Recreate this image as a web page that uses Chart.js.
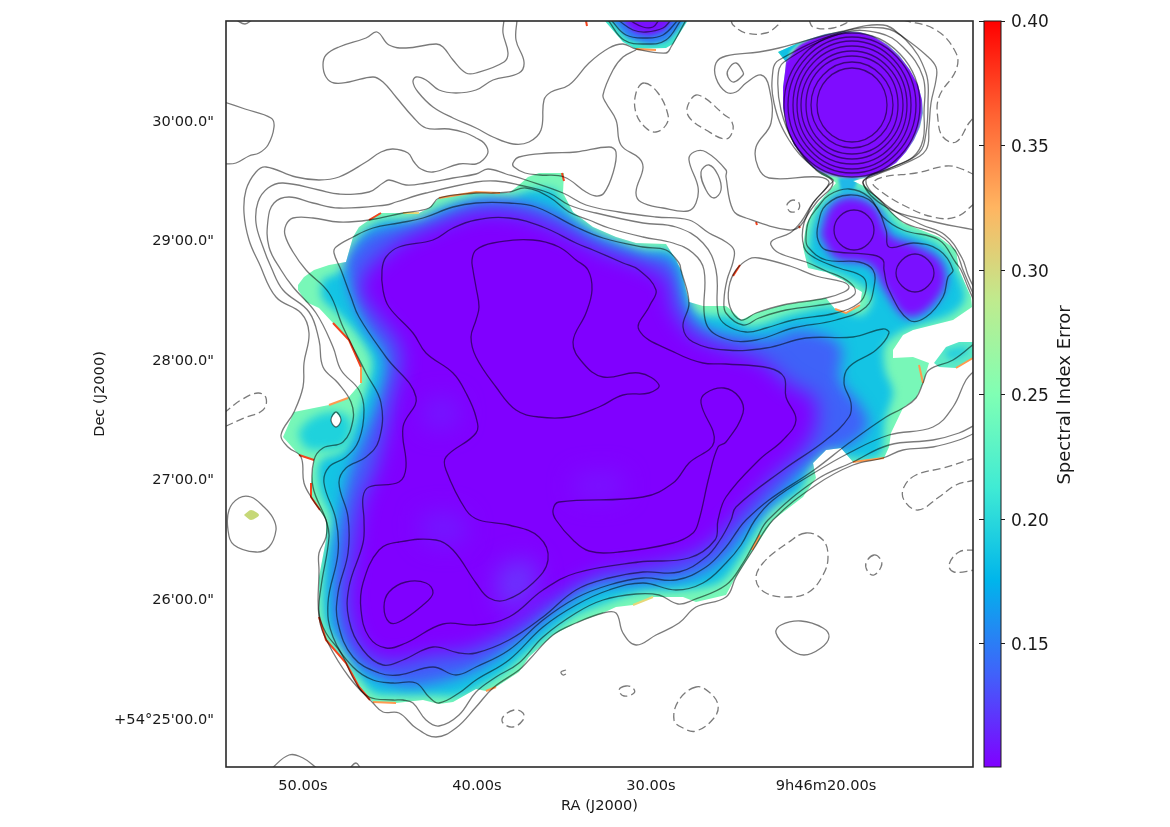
<!DOCTYPE html>
<html><head><meta charset="utf-8">
<style>html,body{margin:0;padding:0;background:#fff;width:1170px;height:827px;overflow:hidden}canvas{position:absolute;top:0}</style>
<script src="https://cdn.jsdelivr.net/npm/chart.js@4"></script>
</head><body>
<canvas id="map" width="1170" height="827" style="left:0"></canvas>
<canvas id="bar" width="195" height="827" style="left:975px"></canvas>
<script>
// tick labels and their positions in map pixels
const raTicks=[303,477,651,826];
const raLabels=['50.00s','40.00s','30.00s','9h46m20.00s'];
const decTicks=[120,239,359,478,598,718];
const decLabels=['30\'00.0"','29\'00.0"','28\'00.0"','27\'00.0"','26\'00.0"','+54°25\'00.0"'];
const cbTicks=[0.15,0.20,0.25,0.30,0.35,0.40];
const cbRange=[0.1006,0.40];
const cbStops=['#8000ff','#4062fa','#00b5eb','#40ebd4','#80ffb4','#bfeb8e','#ffb561','#ff6232','#ff0000'];

// spectral index error map: regions of near-constant error
const errEdge=[[298,285],[304,277],[314,270],[329,265],[346,262],[353,237],[359,227],[369,220],[379,213],[403,213],[419,213],[429,208],[439,198],[476,192],[509,193],[519,185],[528,177],[539,173],[564,173],[563,193],[573,212],[593,227],[616,237],[636,243],[666,244],[676,260],[681,270],[686,290],[689,302],[703,306],[726,306],[730,309],[741,320],[756,313],[783,305],[826,298],[835,309],[846,313],[860,305],[862,292],[850,285],[843,280],[826,272],[808,268],[803,247],[806,225],[815,207],[830,190],[836,183],[833,180],[822,175],[806,161],[794,145],[787,128],[783,108],[783,87],[785,72],[786,62],[778,52],[803,41],[825,34],[843,31],[860,32],[873,36],[888,45],[899,55],[910,70],[918,85],[922,100],[923,113],[920,127],[914,140],[906,152],[896,163],[883,171],[869,177],[853,181],[866,187],[886,207],[903,223],[939,237],[956,250],[959,270],[971,297],[972,307],[953,320],[913,330],[903,335],[893,350],[893,358],[913,357],[929,363],[923,383],[916,398],[903,408],[891,433],[889,447],[884,458],[853,462],[841,448],[826,450],[813,463],[816,478],[803,497],[773,520],[753,550],[734,580],[726,595],[696,602],[683,597],[653,597],[633,605],[616,607],[603,613],[576,623],[553,635],[529,657],[519,672],[496,687],[486,691],[476,689],[453,702],[439,704],[423,700],[396,703],[373,702],[359,687],[346,663],[326,640],[319,617],[319,577],[326,540],[326,520],[311,497],[311,483],[314,460],[299,455],[283,437],[294,412],[329,405],[348,398],[361,383],[361,367],[349,340],[333,323],[319,308],[306,302],[298,290],[298,285]];
const errCyan=[[322,280],[345,268],[358,240],[380,222],[420,220],[440,208],[476,198],[510,198],[530,190],[555,190],[560,200],[575,218],[600,235],[640,250],[672,252],[684,270],[694,312],[730,317],[750,327],[790,315],[830,307],[862,315],[872,298],[860,285],[840,275],[810,262],[810,235],[818,210],[840,190],[860,190],[880,205],[900,228],[935,243],[952,262],[965,298],[950,315],[905,330],[885,345],[885,370],[893,392],[885,420],[880,455],[850,458],[830,445],[810,465],[800,490],[770,510],[745,550],[720,582],[680,590],[640,592],[600,605],[570,618],[530,650],[500,675],[460,695],[430,695],[400,695],[372,692],[347,655],[325,620],[325,560],[332,520],[320,490],[320,462],[345,450],[358,415],[368,385],[372,360],[358,335],[340,315],[322,298],[322,280]];
const errLobe=[[298,432],[312,418],[335,412],[350,420],[345,445],[320,450],[305,447],[298,432]];
const errPatch=[[934,363],[946,347],[959,342],[974,342],[973,358],[956,368],[939,367],[934,363]];
const errPatchCore=[[945,350],[965,347],[968,352],[950,360],[945,350]];
const errBlue=[[345,262],[352,250],[372,232],[420,222],[476,202],[520,202],[560,215],[590,235],[640,254],[672,260],[684,300],[700,325],[726,335],[770,338],[800,330],[840,345],[840,380],[860,405],[868,425],[850,445],[820,455],[785,490],[750,525],[725,557],[690,577],[640,582],[590,587],[555,610],[520,640],[480,668],[440,682],[400,685],[362,668],[340,635],[335,610],[335,560],[340,520],[350,470],[362,440],[378,400],[385,360],[365,325],[352,290],[345,262]];
const errPurple=[[368,268],[400,242],[440,224],[480,212],[520,215],[560,230],[600,250],[640,264],[668,280],[672,305],[690,332],[720,347],[760,360],[790,385],[815,400],[810,440],[770,480],[730,525],[700,552],[650,567],[600,575],[555,600],[520,625],[470,650],[430,655],[390,662],[362,650],[348,605],[352,560],[362,500],[375,470],[392,400],[400,350],[372,310],[360,290],[368,268]];
const tintA=[[425,400],[455,400],[455,425],[425,425],[425,400]];
const tintB=[[495,570],[530,560],[535,590],[505,610],[495,570]];
const tintC=[[420,515],[460,515],[465,540],[425,540],[420,515]];
const tintD=[[575,475],[620,475],[620,495],[575,495],[575,475]];
const errPeanut=[[820,235],[830,207],[850,197],[875,207],[890,235],[915,245],[940,260],[945,285],[925,312],[905,316],[885,290],[870,265],[835,258],[820,235]];
const errBlob=[[785,63],[782,87],[783,113],[790,140],[812,166],[836,176],[869,176],[897,163],[915,137],[922,113],[920,87],[900,57],[873,36],[843,32],[803,43],[785,63]];
const errTip=[[776,50],[803,39],[790,52],[786,62],[776,50]];
const errNeck=[[838,178],[858,178],[852,192],[842,192],[838,178]];
const errTop=[[604,20],[623,42],[636,49],[666,48],[673,44],[688,20],[604,20]];
const errTopMid=[[610,18],[628,38],[650,44],[668,40],[684,18],[610,18]];
const errTopCore=[[622,18],[634,32],[650,35],[664,30],[672,18],[622,18]];
const errSpot=[[244,515],[251,510],[259,515],[251,520],[244,515]];
const holeOval=[[336,412],[341,420],[336,427],[331,420],[336,412]];
const clipRegions=[errEdge,errPatch,errTop];

// bright rim fragments of the map
const rimRed=[[[333,323],[349,340],[361,367]],[[319,617],[326,640],[346,663],[359,687],[370,700]],[[369,220],[381,213]],[[562,173],[564,181]],[[299,455],[314,460]],[[311,483],[311,497],[320,510]],[[733,276],[740,265]],[[756,222],[757,225]],[[799,226],[800,228]],[[586,21],[587,26]]];
const rimOrange=[[[439,198],[476,192],[500,193]],[[329,405],[348,398]],[[361,367],[361,383]],[[373,702],[396,703]],[[486,691],[496,687]],[[919,365],[923,383]],[[835,309],[846,313],[860,305]],[[956,368],[973,358]],[[853,462],[884,458]],[[636,49],[656,50]],[[760,535],[752,550]]];
const rimYellow=[[[633,605],[653,597]],[[403,213],[419,213]]];

// solid radio contours
const lineOuter=[[504,20],[503,33],[508,53],[504,62],[476,73],[466,73],[453,60],[443,47],[436,44],[406,48],[389,45],[377,32],[366,38],[339,47],[326,55],[323,65],[326,77],[334,83],[349,82],[373,77],[383,82],[396,97],[413,117],[426,128],[449,129],[466,133],[476,138],[484,143],[488,152],[483,160],[476,164],[459,164],[433,172],[421,169],[414,162],[408,153],[393,149],[381,152],[366,162],[339,177],[319,180],[296,177],[266,167],[256,172],[246,190],[244,213],[249,240],[259,263],[276,297],[301,313],[309,333],[304,363],[303,387],[294,412],[281,435],[288,447],[301,457],[304,483],[313,500],[326,520],[326,537],[319,553],[319,570],[319,617],[328,643],[349,677],[373,703],[383,712],[399,713],[416,728],[436,737],[456,728],[476,707],[493,688],[519,670],[529,660],[553,635],[576,623],[603,613],[616,613],[623,633],[636,645],[656,635],[679,623],[696,607],[726,597],[736,577],[753,550],[773,520],[816,485],[853,465],[883,458],[903,450],[933,447],[959,440],[975,433]];
const lineTongue=[[517,20],[516,40],[524,62],[519,73],[493,80],[476,90],[456,93],[439,90],[426,80],[416,77],[413,82],[418,92],[433,107],[453,118],[476,128],[493,137],[513,144],[529,142],[541,130],[544,100],[551,92],[569,85],[589,63],[609,48],[623,44],[636,49],[666,53],[671,47],[686,20]];
const lineX=[[636,50],[623,57],[613,70],[603,95],[606,103],[616,120],[621,145],[639,158],[643,168],[636,192],[641,202],[663,208],[688,211],[696,203],[698,187],[689,160],[694,152],[706,152],[726,170],[726,177],[733,210],[746,218],[789,230],[801,225],[813,203],[829,183],[819,177],[769,178],[758,167],[756,147],[771,123],[769,87],[761,75],[746,83],[736,92],[726,92],[716,78],[716,63],[726,56],[759,52],[779,48],[839,32],[883,25],[903,37],[926,55],[936,67],[936,80],[931,103],[929,127],[926,150],[906,163],[876,175],[863,183],[886,207],[926,220],[975,230]];
const lineTopLeft=[[224,102],[245,109],[271,118],[274,127],[268,145],[259,153],[249,156],[236,163],[224,164]];
const lineTopNick=[[236,20],[245,24],[252,20]];
const lineL2=[[975,425],[959,433],[933,440],[889,445],[853,462],[816,480],[768,520],[756,540],[743,563],[726,585],[693,600],[678,604],[659,595],[636,594],[603,600],[576,613],[543,637],[519,663],[496,677],[476,692],[459,715],[439,726],[426,720],[413,703],[403,700],[393,700],[369,697],[356,683],[341,653],[326,633],[319,613],[321,587],[329,537],[326,520],[313,487],[314,460],[323,448],[343,442],[353,420],[351,402],[338,383],[323,367],[319,340],[309,312],[283,290],[271,267],[263,247],[256,223],[258,202],[268,188],[283,183],[319,190],[339,194],[369,192],[383,183],[389,180],[406,185],[426,183],[453,178],[476,174],[488,169],[506,174],[526,180],[563,193],[586,205],[619,212],[656,217],[689,220],[709,233],[726,242],[734,250],[733,262],[727,280],[724,300],[726,313],[743,325],[759,318],[786,310],[839,302],[854,295],[854,287],[843,278],[826,271],[806,262],[779,253],[771,245],[773,240],[790,233],[801,222],[813,203],[829,185],[833,180],[813,167],[789,140],[774,103],[773,70],[779,60],[839,33],[883,28],[906,40],[926,73],[928,103],[926,133],[919,153],[893,167],[866,180],[886,205],[920,224],[945,235],[962,258],[968,275],[975,290]];
const lineL3=[[975,370],[966,380],[953,407],[933,427],[889,435],[849,453],[814,473],[773,500],[755,520],[741,545],[726,563],[703,583],[676,590],[643,583],[609,590],[576,605],[543,627],[509,660],[476,680],[459,693],[439,703],[429,697],[416,683],[393,683],[373,680],[353,667],[333,637],[328,603],[338,553],[336,520],[324,483],[329,467],[346,457],[359,440],[364,410],[359,390],[341,370],[333,347],[316,313],[293,287],[281,270],[269,247],[268,220],[274,203],[289,197],[313,203],[339,208],[386,205],[396,202],[426,193],[476,182],[496,181],[519,185],[549,193],[569,205],[596,213],[643,223],[676,227],[703,243],[716,270],[718,313],[726,325],[746,332],[766,328],[793,320],[836,313],[859,303],[866,290],[863,277],[839,268],[815,258],[804,247],[804,223],[816,203],[833,183],[816,170],[794,143],[781,110],[778,77],[784,62],[843,33],[879,33],[903,47],[923,77],[924,113],[923,140],[913,157],[886,170],[863,182],[880,200],[903,222],[939,235],[956,252],[963,270],[975,298]];
const lineL4=[[975,343],[953,360],[929,370],[923,383],[916,398],[903,408],[886,417],[849,443],[814,470],[769,500],[746,520],[738,530],[726,547],[706,567],[676,580],[643,578],[609,585],[576,598],[543,620],[509,650],[476,667],[456,675],[433,667],[399,675],[379,673],[353,657],[338,623],[338,593],[348,553],[348,517],[339,483],[346,468],[366,457],[379,440],[381,403],[366,373],[343,327],[329,293],[306,270],[293,252],[285,235],[286,225],[293,218],[313,218],[339,222],[369,220],[403,213],[429,208],[439,198],[476,193],[493,193],[509,192],[526,188],[549,197],[569,212],[589,220],[609,228],[643,237],[673,243],[693,253],[704,270],[706,323],[726,339],[756,340],[793,328],[836,320],[866,307],[874,287],[873,270],[859,262],[826,260],[808,247],[806,237],[809,220],[818,207],[829,195],[849,189],[869,197],[883,217],[903,230],[939,240],[956,263],[961,270],[968,287],[975,303]];
const lineL5=[[476,203],[453,207],[423,218],[399,223],[373,228],[353,237],[336,247],[334,253],[341,270],[351,297],[359,317],[386,357],[416,397],[403,427],[406,467],[399,482],[369,487],[363,497],[364,520],[363,543],[349,587],[349,620],[363,650],[383,665],[403,660],[433,647],[459,653],[476,653],[509,640],[543,617],[576,590],[609,578],[643,572],[679,572],[706,557],[720,540],[731,520],[736,507],[783,470],[826,440],[849,417],[851,403],[844,383],[849,367],[876,350],[889,333],[883,329],[853,337],[806,338],[766,348],[726,350],[693,342],[683,327],[689,303],[681,270],[679,263],[666,250],[643,247],[603,238],[576,227],[536,207],[509,203],[476,203]];
const lineL6=[[382,270],[386,257],[399,247],[433,240],[453,228],[476,220],[509,218],[543,227],[576,243],[593,250],[623,263],[639,270],[656,290],[650,305],[639,330],[676,353],[703,363],[726,364],[769,368],[784,377],[786,397],[796,420],[783,440],[759,460],[726,497],[718,520],[715,540],[689,558],[639,562],[576,573],[543,590],[509,617],[476,625],[443,624],[406,643],[386,648],[369,637],[361,610],[363,583],[379,550],[399,542],[436,540],[453,550],[476,583],[489,598],[506,600],[533,583],[548,560],[539,537],[509,525],[479,520],[466,510],[446,470],[446,457],[476,433],[476,417],[466,393],[453,373],[426,353],[413,333],[389,307],[383,290],[382,270]];
const lineL7=[[476,250],[472,260],[473,270],[476,287],[479,307],[476,320],[471,337],[476,357],[496,387],[516,410],[539,417],[569,417],[599,407],[623,395],[649,393],[659,385],[639,373],[603,377],[583,363],[573,342],[586,313],[592,290],[588,270],[576,260],[559,247],[533,240],[493,243],[476,250]];
const lineL8=[[724,388],[706,393],[701,403],[714,442],[689,463],[673,483],[643,497],[559,502],[553,510],[556,520],[573,540],[589,551],[619,552],[673,543],[693,533],[699,520],[709,477],[718,447],[726,442],[743,413],[739,397],[724,388]];
const lineSWcore=[[384,607],[389,592],[406,582],[426,583],[433,593],[423,605],[399,622],[389,622],[384,607]];
const linePeanut=[[826,205],[849,195],[873,203],[886,230],[889,247],[914,243],[939,250],[953,270],[948,277],[943,297],[926,317],[909,320],[889,290],[884,270],[883,260],[873,255],[826,250],[818,240],[818,225],[826,205]];
const ringMid=[[874,230],[868,244],[854,250],[840,244],[834,230],[840,216],[854,210],[868,216],[874,230]];
const ringEast=[[934,273],[928,286],[915,292],[902,286],[896,273],[902,260],[915,254],[928,260],[934,273]];
const topArc1=[[629,20],[643,27],[653,27],[659,20]];
const topArc2=[[618,20],[633,30],[646,32],[663,28],[671,20]];
const topArc3=[[611,20],[626,35],[646,38],[663,35],[678,20]];
const topArc4=[[608,20],[624,40],[646,44],[666,40],[681,20]];
const ring1=[[887,105],[877,131],[852,142],[827,131],[817,105],[827,79],[852,68],[877,79],[887,105]];
const ring2=[[893,105],[881,135],[852,148],[823,135],[811,105],[823,75],[852,62],[881,75],[893,105]];
const ring3=[[898,105],[885,140],[852,154],[819,140],[806,105],[819,70],[852,56],[885,70],[898,105]];
const ring4=[[903,105],[888,143],[852,159],[816,143],[801,105],[816,67],[852,51],[888,67],[903,105]];
const ring5=[[907,105],[891,147],[852,164],[813,147],[797,105],[813,63],[852,46],[891,63],[907,105]];
const ring6=[[911,105],[894,150],[852,169],[810,150],[793,105],[810,60],[852,41],[894,60],[911,105]];
const ring7=[[916,105],[897,153],[852,173],[807,153],[788,105],[807,57],[852,37],[897,57],[916,105]];
const ring8=[[920,105],[900,156],[852,177],[804,156],[784,105],[804,54],[852,33],[900,54],[920,105]];
const ovalHole=[[736,270],[729,287],[730,307],[741,320],[756,313],[783,305],[826,298],[844,292],[849,287],[843,282],[816,276],[790,266],[759,258],[749,259],[736,270]];
const tongue=[[513,163],[519,157],[549,153],[576,152],[609,147],[616,152],[613,173],[604,193],[596,196],[586,192],[564,177],[540,175],[525,173],[514,167],[513,163]];
const ovalNE=[[743,72],[736,63],[728,70],[728,77],[734,82],[743,75],[743,72]];
const ovalTall=[[709,165],[701,172],[706,190],[714,198],[721,190],[718,175],[709,165]];
const loopSpot=[[229,510],[239,498],[251,497],[264,507],[273,518],[276,530],[269,547],[256,552],[234,545],[228,530],[229,510]];
const loopSE=[[801,621],[781,625],[776,633],[788,648],[804,655],[821,648],[829,637],[823,628],[801,621]];
const nickC=[[566,670],[561,672],[563,675],[566,674]];
const bottomArc1=[[271,769],[289,755],[303,758],[318,769]];
const bottomArc2=[[349,769],[356,763],[361,769]];
const solidLines=[lineOuter,lineTongue,lineX,lineTopLeft,lineTopNick,lineL2,lineL3,lineL4,lineL5,lineL6,lineL7,lineL8,lineSWcore,linePeanut,ringMid,ringEast,topArc1,topArc2,topArc3,topArc4,ring1,ring2,ring3,ring4,ring5,ring6,ring7,ring8,ovalHole,tongue,ovalNE,ovalTall,loopSpot,loopSE,nickC,bottomArc1,bottomArc2,holeOval];

// dashed (negative) contours
const dashA=[[644,83],[636,93],[636,113],[646,128],[656,132],[666,125],[668,115],[658,93],[644,83]];
const dashB=[[698,95],[688,105],[689,117],[706,130],[726,139],[733,130],[731,120],[726,116],[698,95]];
const dashC=[[731,20],[733,25],[746,33],[766,33],[778,25],[781,20]];
const dashD=[[809,20],[813,27],[833,28],[853,20]];
const dashE=[[903,20],[936,30],[956,53],[956,70],[939,97],[938,120],[943,137],[956,142],[969,123],[975,116]];
const dashF=[[975,175],[959,168],[946,166],[916,173],[883,177],[873,183],[879,190],[903,205],[933,217],[956,217],[975,203]];
const dashG=[[788,203],[793,200],[799,203],[798,210],[791,212],[787,207],[788,203]];
const dashH=[[224,413],[241,400],[258,393],[266,398],[263,410],[244,418],[224,427]];
const dashI=[[806,533],[789,542],[763,563],[756,580],[766,593],[789,597],[809,592],[823,575],[828,557],[823,540],[806,533]];
const dashJ=[[874,555],[866,563],[868,572],[874,575],[881,567],[881,560],[874,555]];
const dashK=[[975,550],[959,552],[949,565],[954,572],[975,570]];
const dashL=[[975,458],[943,468],[916,475],[904,487],[904,500],[918,510],[939,497],[956,485],[975,480]];
const dashM=[[626,686],[619,690],[624,696],[634,693],[633,688],[626,686]];
const dashN=[[514,710],[503,717],[503,723],[513,727],[523,720],[523,713],[514,710]];
const dashO=[[696,687],[679,700],[674,720],[683,728],[696,731],[714,718],[718,705],[709,692],[696,687]];
const dashedLines=[dashA,dashB,dashC,dashD,dashE,dashF,dashG,dashH,dashI,dashJ,dashK,dashL,dashM,dashN,dashO];

const pts=a=>a.map(([x,y])=>({x,y}));
const base={showLine:true,pointRadius:0,pointHoverRadius:0};
const fillDs=(a,c,blur,t,clipEdge)=>({...base,data:pts(a),fill:'shape',backgroundColor:c,borderWidth:0,tension:t,blur,clipEdge:!!clipEdge});
const rimDs=(a,c)=>({...base,data:pts(a),fill:false,borderColor:c,borderWidth:2,tension:0,blur:0.5});
const lineDs=(a,dash)=>{const last=a[a.length-1],closed=a.length>3&&a[0][0]===last[0]&&a[0][1]===last[1];
 return {...base,data:pts(closed?a.slice(0,-1):a),closed,fill:false,borderColor:'rgba(0,0,0,0.52)',borderWidth:1.3,tension:0.4,borderDash:dash||[]}};

const datasets=[
 fillDs(errEdge,'#78f7b8',0,0),
 fillDs(errPatch,'#5ceac6',0,0),
 fillDs(errTop,'#3fe6cc',0,0),
 fillDs(errSpot,'#c6d878',0.6,0.3),
 fillDs(errCyan,'#14c4e4',4,0.3,true),
 fillDs(errLobe,'#1fd2dc',5,0.4,true),
 fillDs(errPatchCore,'#28cfdc',3,0.3,true),
 fillDs(errBlue,'#3f62f8',7,0.35,true),
 fillDs(errPurple,'#8000ff',10,0.35,true),
 fillDs(tintA,'#7218ff',12,0.4,true),
 fillDs(tintB,'#6a34fd',12,0.4,true),
 fillDs(tintC,'#7218ff',12,0.4,true),
 fillDs(tintD,'#7814ff',12,0.4,true),
 fillDs(errPeanut,'#7a10ff',5,0.35,true),
 fillDs(errNeck,'#20b8e8',1.5,0.2,true),
 fillDs(errTip,'#10c0e4',1.2,0.2,true),
 fillDs(errBlob,'#7f0cff',1,0.35,true),
 fillDs(errTopMid,'#2f80f4',2,0.2,true),
 fillDs(errTopCore,'#7a10ff',2.5,0.2,true),
 ...rimRed.map(a=>rimDs(a,'#f4421c')),
 ...rimOrange.map(a=>rimDs(a,'#ff9a50')),
 ...rimYellow.map(a=>rimDs(a,'#e6d878')),
 fillDs(holeOval,'#ffffff',0,0.4),
 ...solidLines.map(a=>lineDs(a)),
 ...dashedLines.map(a=>lineDs(a,[8,4]))
];
datasets.forEach((d,i)=>{d.order=datasets.length-i});

function prepareLayer(c,i){
 const x=c.ctx,d=c.data.datasets[i];
 const want=!!(d&&d.clipEdge);
 if(want&&!c.$edgeClip){
  x.save();x.filter='none';x.beginPath();
  clipRegions.forEach(r=>{r.forEach(([a,b],k)=>{const px=c.scales.x.getPixelForValue(a),py=c.scales.y.getPixelForValue(b);k?x.lineTo(px,py):x.moveTo(px,py)});x.closePath()});
  x.clip();c.$edgeClip=true;
 } else if(!want&&c.$edgeClip){x.restore();c.$edgeClip=false}
 x.filter=d&&d.blur?`blur(${d.blur}px)`:'none';
}
const layerPlugin={id:'layers',
 afterDatasetUpdate(c,a){const d=c.data.datasets[a.index];if(d.closed){const l=a.meta.dataset;l._loop=true;l._fullLoop=true;l._segments=undefined;l._pointsUpdated=false}},
 beforeDatasetsDraw(c){prepareLayer(c,0)},
 afterDatasetDraw(c,a){prepareLayer(c,a.index+1)},
 afterDatasetsDraw(c){c.ctx.filter='none'},
 afterDraw(c){const {left,top,width,height}=c.chartArea,x=c.ctx;x.save();x.strokeStyle='#2a2a2a';x.lineWidth=1.6;x.strokeRect(left,top,width,height);x.restore()}
};
const tickFont={family:'"DejaVu Sans"',size:14.6};

new Chart(document.getElementById('map'),{
 type:'scatter',
 data:{datasets},
 plugins:[layerPlugin],
 options:{responsive:false,animation:false,events:[],
  layout:{padding:{left:91,top:21,right:197,bottom:12}},
  plugins:{legend:{display:false},tooltip:{enabled:false}},
  scales:{
   x:{type:'linear',min:226,max:973,
    grid:{display:false,drawTicks:false},border:{display:false},
    afterBuildTicks:s=>{s.ticks=raTicks.map(value=>({value}))},
    afterFit:s=>{s.height=48},
    ticks:{autoSkip:false,maxRotation:0,padding:10,color:'#1a1a1a',font:tickFont,callback:v=>raLabels[raTicks.indexOf(v)]},
    title:{display:true,text:'RA (J2000)',color:'#1a1a1a',font:tickFont,padding:0}},
   y:{type:'linear',min:21,max:767,reverse:true,
    grid:{display:false,drawTicks:false},border:{display:false},
    afterBuildTicks:s=>{s.ticks=decTicks.map(value=>({value}))},
    afterFit:s=>{s.width=135},
    ticks:{autoSkip:false,padding:12,labelOffset:2,color:'#1a1a1a',font:tickFont,callback:v=>decLabels[decTicks.indexOf(v)]},
    title:{display:true,text:'Dec (J2000)',color:'#1a1a1a',font:tickFont,padding:0}}
  }}
});

new Chart(document.getElementById('bar'),{
 type:'bar',
 data:{labels:['err'],datasets:[{data:[cbRange],barPercentage:1,categoryPercentage:1,
  backgroundColor:c=>{const a=c.chart.chartArea;if(!a)return cbStops[0];
   const g=c.chart.ctx.createLinearGradient(0,a.bottom,0,a.top);
   cbStops.forEach((s,i)=>g.addColorStop(i/(cbStops.length-1),s));return g}}]},
 plugins:[{id:'cbFrame',afterDraw(c){const {left,top,width,height}=c.chartArea,x=c.ctx;x.save();x.strokeStyle='#1a1a1a';x.lineWidth=1;x.strokeRect(left,top,width,height);
   x.translate(90,395);x.rotate(-Math.PI/2);x.fillStyle='#1a1a1a';x.font='18px "DejaVu Sans"';x.textAlign='center';x.textBaseline='middle';x.fillText('Spectral Index Error',0,0);x.restore()}}],
 options:{responsive:false,animation:false,events:[],
  layout:{padding:{left:0,top:21,right:95,bottom:60}},
  plugins:{legend:{display:false},tooltip:{enabled:false}},
  scales:{
   x:{display:false},
   y:{position:'right',min:cbRange[0],max:cbRange[1],
    grid:{drawOnChartArea:false,drawTicks:true,tickLength:4,color:'#1a1a1a'},border:{display:false},
    afterBuildTicks:s=>{s.ticks=cbTicks.map(value=>({value}))},
    afterFit:s=>{s.width=74},
    ticks:{padding:6,labelOffset:2,color:'#1a1a1a',font:{family:'"DejaVu Sans"',size:17},callback:v=>Number(v).toFixed(2)}},
   y2:{position:'left',min:cbRange[0],max:cbRange[1],
    grid:{drawOnChartArea:false,drawTicks:true,tickLength:5,color:'#1a1a1a'},border:{display:false},
    afterBuildTicks:s=>{s.ticks=cbTicks.map(value=>({value}))},
    afterFit:s=>{s.width=9},
    ticks:{padding:0,font:{size:1},callback:()=>''}}
  }}
});
</script>
</body></html>
